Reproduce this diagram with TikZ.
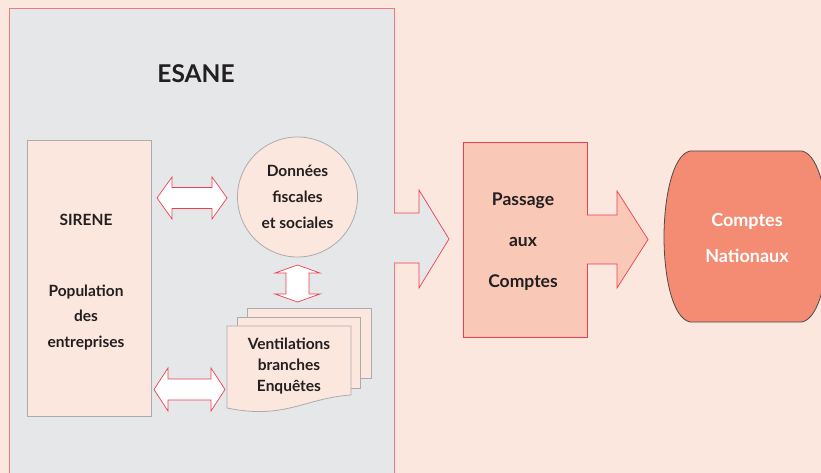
\documentclass[tikz,border=0pt]{standalone}
\usepackage{fontspec}
\setmainfont{Lato}
\definecolor{bgpink}{HTML}{FCE7DF}
\definecolor{boxgray}{HTML}{E6E7E9}
\definecolor{redline}{HTML}{EE3F4E}
\definecolor{lightred}{HTML}{F27880}
\definecolor{sheetborder}{HTML}{ABABAD}
\definecolor{passfill}{HTML}{F9C8B7}
\definecolor{cnfill}{HTML}{F48C73}
\definecolor{txt}{HTML}{231F20}
\newcommand{\hdarrow}[6]{% x1 x2 ycenter headlen halfhead halfshaft
  \filldraw[dblarrow] (#1,#3) -- ({#1+#4},{#3-#5}) -- ({#1+#4},{#3-#6}) -- ({#2-#4},{#3-#6}) -- ({#2-#4},{#3-#5})
    -- (#2,#3) -- ({#2-#4},{#3+#5}) -- ({#2-#4},{#3+#6}) -- ({#1+#4},{#3+#6}) -- ({#1+#4},{#3+#5}) -- cycle;}
\newcommand{\vdarrow}[6]{% y1 y2 xcenter headlen halfhead halfshaft
  \filldraw[dblarrow] (#3,#1) -- ({#3+#5},{#1+#4}) -- ({#3+#6},{#1+#4}) -- ({#3+#6},{#2-#4}) -- ({#3+#5},{#2-#4})
    -- (#3,#2) -- ({#3-#5},{#2-#4}) -- ({#3-#6},{#2-#4}) -- ({#3-#6},{#1+#4}) -- ({#3-#5},{#1+#4}) -- cycle;}
\tikzset{
  dblarrow/.style={fill=white, draw=redline, line width=0.7pt, line join=miter},
  sheet/.style={fill=bgpink, draw=sheetborder, line width=0.8pt},
  lbl/.style={text=txt, align=center, font=\bfseries\fontsize{14}{26}\selectfont},
}
\begin{document}
\begin{tikzpicture}[x=1pt,y=-1pt]
\fill[bgpink] (0,0) rectangle (821,473);
\useasboundingbox (0,0) rectangle (821,473);
% ESANE container with outgoing arrow
\fill[boxgray] (9,473) -- (9,9) -- (394,9) -- (394,213) -- (419,213) -- (419,190) -- (449,239) -- (419,288) -- (419,263) -- (394,263) -- (394,473) -- cycle;
\draw[lightred, line width=1pt] (9,473) -- (9,9) -- (394,9) -- (394,213);
\draw[redline, line width=0.7pt] (394,213) -- (419,213) -- (419,190) -- (449,239) -- (419,288) -- (419,263) -- (394,263);
\draw[lightred, line width=1pt] (394,263) -- (394,473);
\node[text=txt, font=\bfseries\fontsize{24.5}{28}\selectfont] (esane) at (196,74) {ESANE};
% SIRENE
\node[sheet, minimum width=124pt, minimum height=276pt, lbl, font=\bfseries\fontsize{15.5}{25.5}\selectfont] (sirene) at (89,278) {};
\node[lbl, font=\bfseries\fontsize{15.5}{25.5}\selectfont] (sirenetxt) at (86,282) {SIRENE\\[45pt]Population\\des\\entreprises};
% Donnees circle
\node[sheet, circle, minimum size=120pt, lbl, font=\bfseries\fontsize{15.5}{26}\selectfont, yshift=-2pt] (donnees) at (297.5,195) {Données\\fiscales\\et sociales};
% documents
\draw[sheet] (247,308) rectangle (371,378);
\draw[sheet] (237,317) rectangle (360,388);
\draw[sheet] (227,326) -- (351,326) -- (351,395) .. controls (305,398) and (285,420) .. (227,408) -- cycle;
\node[lbl, font=\bfseries\fontsize{15.5}{21}\selectfont] (vent) at (289,366) {Ventilations\\branches\\Enquêtes};
% double arrows
\hdarrow{157}{227}{198}{15}{21}{10.5}
\hdarrow{154}{225}{389.5}{14}{21.5}{10.5}
\vdarrow{265}{302}{297.5}{8}{22.5}{11.5}
% Passage
\node[fill=passfill, draw=redline, line width=0.8pt, minimum width=124pt, minimum height=195pt] (passage) at (525,239.5) {};
\node[lbl, font=\bfseries\fontsize{17.5}{41}\selectfont] (passagetxt) at (523,241.5) {Passage\\aux\\Comptes};
\fill[passfill] (586,215) -- (617,215) -- (617,191) -- (648,239.5) -- (617,288) -- (617,264) -- (586,264) -- cycle;
\draw[redline, line width=0.7pt] (587,215) -- (617,215) -- (617,191) -- (648,239.5) -- (617,288) -- (617,264) -- (587,264);
% Comptes Nationaux
\filldraw[fill=cnfill, draw=black!70, line width=0.8pt] (690,151) -- (802,151)
  .. controls (820,155) and (828,200) .. (828,237) .. controls (828,275) and (820,318) .. (802,322)
  -- (690,322) .. controls (672,318) and (664,275) .. (664,237) .. controls (664,200) and (672,155) .. (690,151) -- cycle;
\node[text=white, align=center, font=\bfseries\fontsize{18}{36}\selectfont] (cn) at (747,237.5) {Comptes\\Nationaux};
\end{tikzpicture}
\end{document}
